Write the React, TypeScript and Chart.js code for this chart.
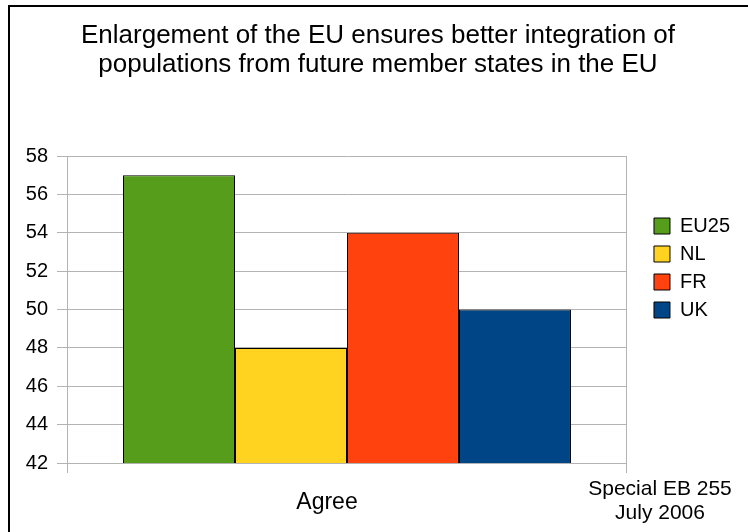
import React, { useEffect, useRef } from "react";
import { Chart, registerables } from "chart.js";

Chart.register(...registerables);

const TITLE_LINES = [
  "Enlargement of the EU ensures better integration of",
  "populations from future member states in the EU",
];
const CATEGORIES = ["Agree"];
const SERIES_NAMES = ["EU25", "NL", "FR", "UK"];
const SERIES_VALUES = [[57], [48], [54], [50]];
const SERIES_COLORS = ["#579d1c", "#ffd320", "#ff420e", "#004586"];
const Y_MIN = 42;
const Y_MAX = 58;
const Y_STEP = 2;
const FOOTNOTE = ["Special EB 255", "July 2006"];

const FONT = "'Liberation Sans', Arial, sans-serif";
const GRID = "#b3b3b3";

const footnotePlugin = {
  id: "footnote",
  afterDraw(chart: any) {
    const ctx = chart.ctx;
    ctx.save();
    ctx.font = `21px ${FONT}`;
    ctx.fillStyle = "#000";
    ctx.textAlign = "center";
    ctx.textBaseline = "alphabetic";
    FOOTNOTE.forEach((line, i) => {
      ctx.fillText(line, 660, 495 + i * 24);
    });
    ctx.restore();
  },
};

export default function App() {
  const ref = useRef<HTMLCanvasElement | null>(null);

  useEffect(() => {
    if (!ref.current) return;
    const chart = new Chart(ref.current, {
      type: "bar",
      data: {
        labels: CATEGORIES,
        datasets: SERIES_NAMES.map((name, i) => ({
          label: name,
          data: SERIES_VALUES[i],
          backgroundColor: SERIES_COLORS[i],
          borderColor: "#000",
          borderWidth: 1,
          categoryPercentage: 0.8,
          barPercentage: 1,
          yAxisID: "y",
        })),
      },
      options: {
        animation: false,
        responsive: false,
        devicePixelRatio: 1,
        layout: { padding: { left: 16, right: 8, top: 4, bottom: 0 } },
        plugins: {
          title: {
            display: true,
            text: TITLE_LINES,
            color: "#000",
            font: { family: FONT, size: 26, weight: "normal", lineHeight: 1.135 },
            padding: { top: 17, bottom: 76 },
          },
          legend: {
            display: true,
            position: "right",
            labels: {
              boxWidth: 16,
              boxHeight: 16,
              padding: 8,
              color: "#000",
              font: { family: FONT, size: 20 },
            },
          },
          tooltip: { enabled: false },
        },
        scales: {
          x: {
            grid: { offset: true, color: GRID, tickLength: 10, drawOnChartArea: true },
            border: { display: true, color: GRID },
            ticks: { color: "#000", font: { family: FONT, size: 23 }, padding: 16, labelOffset: -20 },
            afterFit(s: any) {
              s.height = 69;
            },
          },
          y: {
            min: Y_MIN,
            max: Y_MAX,
            grid: { color: GRID, tickLength: 10 },
            border: { display: true, color: GRID },
            ticks: { stepSize: Y_STEP, color: "#000", font: { family: FONT, size: 20 }, padding: 9 },
            afterFit(s: any) {
              s.width = 51;
            },
          },
          yPad: {
            type: "linear",
            position: "right",
            display: true,
            grid: { display: false },
            border: { display: false },
            ticks: { display: false },
            afterFit(s: any) {
              s.width = 19;
            },
          },
        },
      } as any,
      plugins: [footnotePlugin],
    });
    return () => chart.destroy();
  }, []);

  return (
    <div style={{ position: "fixed", left: 0, top: 0, width: 748, height: 532, background: "#fff", overflow: "hidden" }}>
      <div
        style={{
          position: "absolute",
          left: 8,
          top: 5,
          width: 800,
          height: 600,
          borderLeft: "2px solid #000",
          borderTop: "2px solid #000",
        }}
      />
      <canvas ref={ref} width={748} height={532} style={{ position: "absolute", left: 0, top: 0 }} />
    </div>
  );
}
